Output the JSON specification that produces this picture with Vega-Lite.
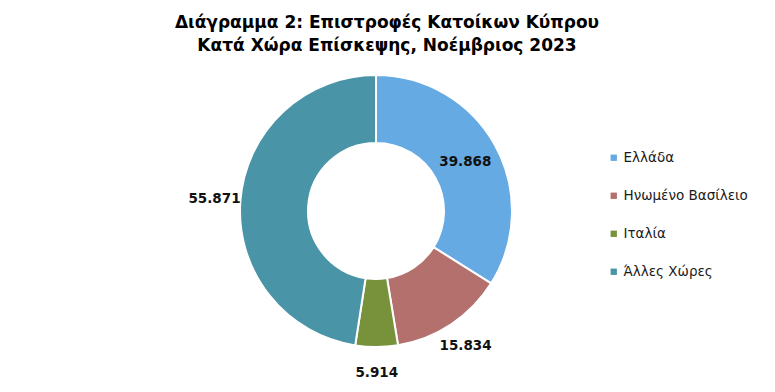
{
  "$schema": "https://vega.github.io/schema/vega-lite/v6.json",
  "width": 752,
  "height": 302,
  "autosize": {"type": "none"},
  "padding": {"left": 0, "top": 60, "right": 23, "bottom": 30},
  "background": "white",
  "config": {
    "view": {"stroke": null},
    "font": "DejaVu Sans",
    "locale": {"number": {"decimal": ",", "thousands": ".", "grouping": [3], "currency": ["", " €"]}}
  },
  "title": {
    "text": ["Διάγραμμα 2: Επιστροφές Κατοίκων Κύπρου", "Κατά Χώρα Επίσκεψης, Νοέμβριος 2023"],
    "fontSize": 17,
    "fontWeight": "bold",
    "color": "#000000",
    "anchor": "middle",
    "offset": 5,
    "dx": 11,
    "lineHeight": 23
  },
  "data": {
    "values": [
      {"country": "Ελλάδα", "value": 39868, "rank": 1},
      {"country": "Ηνωμένο Βασίλειο", "value": 15834, "rank": 2},
      {"country": "Ιταλία", "value": 5914, "rank": 3},
      {"country": "Άλλες Χώρες", "value": 55871, "rank": 4}
    ]
  },
  "encoding": {
    "theta": {"field": "value", "type": "quantitative", "stack": true},
    "order": {"field": "rank", "type": "quantitative"},
    "color": {
      "field": "country",
      "type": "nominal",
      "sort": ["Ελλάδα", "Ηνωμένο Βασίλειο", "Ιταλία", "Άλλες Χώρες"],
      "scale": {
        "domain": ["Ελλάδα", "Ηνωμένο Βασίλειο", "Ιταλία", "Άλλες Χώρες"],
        "range": ["#65aae2", "#b3706c", "#77923a", "#4a94a7"]
      },
      "legend": {
        "title": null,
        "orient": "none",
        "legendX": 607,
        "legendY": 91,
        "symbolType": "square",
        "symbolSize": 40,
        "symbolStrokeWidth": 0,
        "labelFontSize": 13.5,
        "labelColor": "#1a1a1a",
        "labelOffset": 3,
        "rowPadding": 23
      }
    }
  },
  "layer": [
    {
      "mark": {"type": "arc", "outerRadius": 136, "innerRadius": 68, "stroke": "white", "strokeWidth": 2}
    },
    {
      "mark": {"type": "text", "radius": 102, "fontSize": 13.5, "fontWeight": "bold"},
      "encoding": {
        "text": {"condition": {"test": "datum.country === 'Ελλάδα'", "field": "value", "format": ",d"}, "value": ""},
        "color": {"value": "#111111"}
      }
    },
    {
      "mark": {"type": "text", "radius": 162, "fontSize": 13.5, "fontWeight": "bold"},
      "encoding": {
        "text": {"condition": {"test": "datum.country !== 'Ελλάδα'", "field": "value", "format": ",d"}, "value": ""},
        "color": {"value": "#111111"}
      }
    }
  ]
}
